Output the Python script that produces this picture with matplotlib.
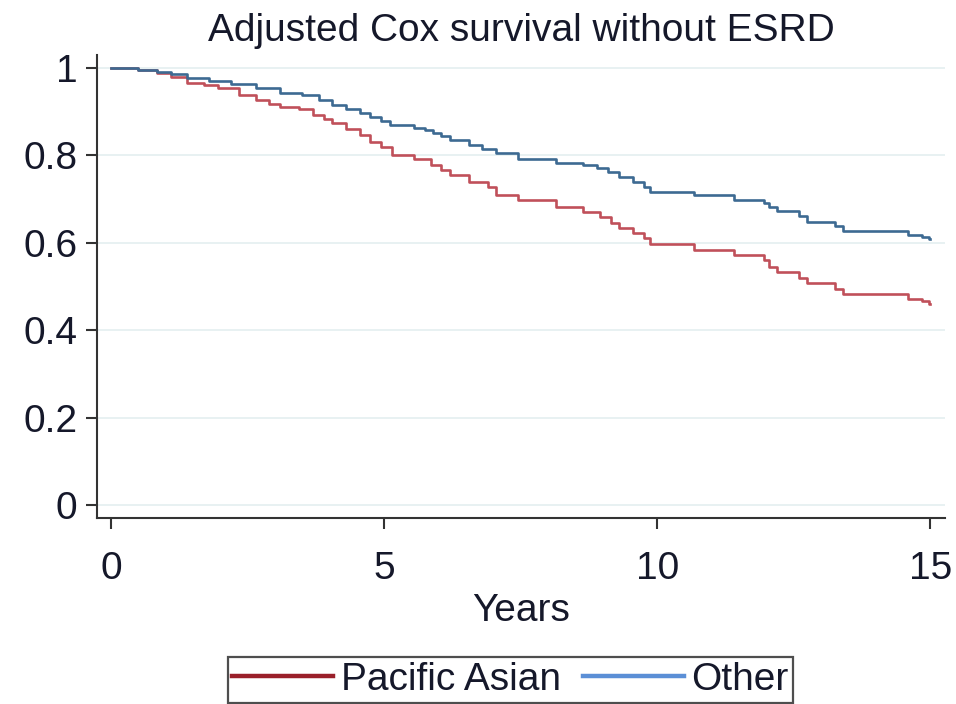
import matplotlib
matplotlib.use("Agg")
import matplotlib.pyplot as plt
from matplotlib.lines import Line2D

plt.rcParams["font.family"] = ["Liberation Sans", "DejaVu Sans"]

# Adjusted Cox survival estimates (step functions), years since baseline
years_other = [0, 0.5, 0.85, 1.1, 1.4, 1.8, 2.2, 2.65, 3.1, 3.5, 3.8, 4.05, 4.3,
               4.55, 4.75, 4.95, 5.1, 5.55, 5.75, 5.9, 6.05, 6.2, 6.55, 6.8, 7.05,
               7.45, 8.15, 8.65, 8.9, 9.1, 9.3, 9.55, 9.75, 9.87, 10.68, 11.4,
               11.95, 12.05, 12.2, 12.6, 12.75, 13.25, 13.4, 14.6, 14.85, 14.97, 15.0]
surv_other = [1.000, 0.996, 0.991, 0.985, 0.977, 0.970, 0.963, 0.954, 0.943, 0.938,
              0.927, 0.915, 0.906, 0.897, 0.888, 0.878, 0.870, 0.862, 0.857, 0.851,
              0.843, 0.835, 0.824, 0.815, 0.805, 0.792, 0.783, 0.777, 0.771, 0.761,
              0.751, 0.739, 0.727, 0.716, 0.709, 0.698, 0.690, 0.682, 0.673, 0.660,
              0.648, 0.638, 0.627, 0.617, 0.613, 0.609, 0.609]

years_pacific = [0, 0.5, 0.85, 1.1, 1.4, 1.7, 1.95, 2.35, 2.65, 2.9, 3.1, 3.45, 3.7,
                 3.9, 4.05, 4.3, 4.55, 4.75, 4.95, 5.15, 5.55, 5.85, 6.05, 6.2, 6.55,
                 6.9, 7.05, 7.45, 8.15, 8.65, 8.95, 9.15, 9.3, 9.55, 9.75, 9.87,
                 10.68, 11.4, 11.95, 12.05, 12.2, 12.6, 12.75, 13.25, 13.4, 14.6,
                 14.85, 14.97, 15.0]
surv_pacific = [1.000, 0.995, 0.989, 0.978, 0.966, 0.960, 0.954, 0.938, 0.927, 0.918,
                0.911, 0.906, 0.892, 0.883, 0.874, 0.861, 0.847, 0.831, 0.818, 0.801,
                0.792, 0.778, 0.766, 0.755, 0.739, 0.728, 0.709, 0.698, 0.682, 0.670,
                0.659, 0.646, 0.634, 0.622, 0.611, 0.598, 0.583, 0.572, 0.560, 0.545,
                0.533, 0.520, 0.508, 0.495, 0.483, 0.471, 0.466, 0.460, 0.460]

group_labels = ["Pacific Asian", "Other"]
x_ticks = [0, 5, 10, 15]
y_ticks = [0, 0.2, 0.4, 0.6, 0.8, 1.0]
y_tick_labels = ["0", "0.2", "0.4", "0.6", "0.8", "1"]

text_color = "#15182a"
fs = 28
fig = plt.figure(figsize=(9.56, 7.04), dpi=100)
ax = fig.add_axes([0.1015, 0.2642, 0.887, 0.658])

ax.plot(years_pacific, surv_pacific, drawstyle="steps-post", color="#c0505a", lw=1.9)
ax.plot(years_other, surv_other, drawstyle="steps-post", color="#3d6a92", lw=1.9)

ax.set_xlim(-0.256, 15.27)
ax.set_ylim(-0.0297, 1.0297)
ax.set_xticks(x_ticks)
ax.set_yticks(y_ticks)
ax.set_yticklabels(y_tick_labels)
ax.grid(axis="y", color="#e6f0f1", lw=1.3)
ax.set_axisbelow(True)

for side in ("top", "right"):
    ax.spines[side].set_visible(False)
for side in ("left", "bottom"):
    ax.spines[side].set_color("#333333")
    ax.spines[side].set_linewidth(1.5)

ax.tick_params(axis="both", direction="out", length=8, width=1.5, color="#333333",
               labelsize=fs, labelcolor=text_color)
ax.tick_params(axis="x", pad=16)
ax.tick_params(axis="y", pad=6)

ax.set_title("Adjusted Cox survival without ESRD", fontsize=fs, color=text_color, pad=10)
ax.set_xlabel("Years", fontsize=fs, color=text_color, labelpad=4)

handles = [Line2D([0], [0], color="#9a1f2a", lw=3.2),
           Line2D([0], [0], color="#5b8fd6", lw=3.2)]
leg = fig.legend(handles, group_labels, loc="lower center", bbox_to_anchor=(0.534, 0.002),
                 ncol=2, fontsize=fs, frameon=True, fancybox=False,
                 handlelength=2.6, handletextpad=0.2, columnspacing=0.55,
                 borderpad=0.12, borderaxespad=0.0, labelcolor=text_color)
leg.get_frame().set_edgecolor("#222222")
leg.get_frame().set_linewidth(1.6)

fig.savefig("out.png", dpi=100)
